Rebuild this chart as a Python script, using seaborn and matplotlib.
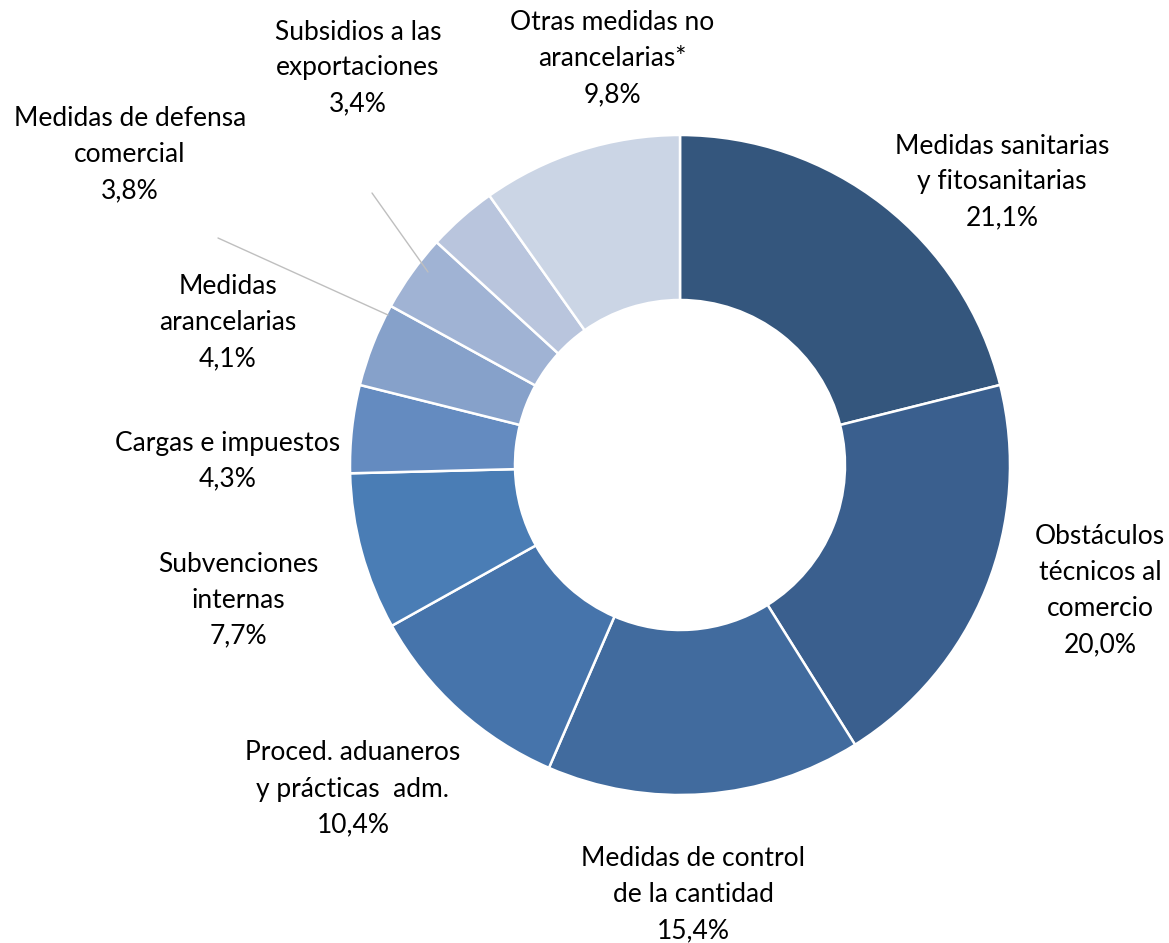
import matplotlib.pyplot as plt
import seaborn as sns

# Datos del gráfico
categorias = ['Medidas sanitarias\ny fitosanitarias',
              'Obstáculos\ntécnicos al\ncomercio',
              'Medidas de control\nde la cantidad',
              'Proced. aduaneros\ny prácticas  adm.',
              'Subvenciones\ninternas',
              'Cargas e impuestos',
              'Medidas\narancelarias',
              'Medidas de defensa\ncomercial',
              'Subsidios a las\nexportaciones',
              'Otras medidas no\narancelarias*']
porcentajes = [21.1, 20.0, 15.4, 10.4, 7.7, 4.3, 4.1, 3.8, 3.4, 9.8]

colores = ['#34567D', '#3A5F8E', '#416B9E', '#4674AB', '#4A7DB5',
           '#648BC0', '#86A1CA', '#A0B3D4', '#B9C5DD', '#CBD5E5']

# Posición de las etiquetas (en píxeles de la imagen, origen arriba a la izquierda)
pos_etiquetas = [(1002, 182), (1100, 591), (693, 895), (353, 789), (238, 600),
                 (228, 461), (228, 323), (130, 155), (358, 68), (612, 59)]

sns.set_theme(style='white')
plt.rcParams['font.family'] = ['Lato', 'DejaVu Sans']

W, H = 1169, 943
fig = plt.figure(figsize=(W / 100, H / 100), dpi=100)
ax = fig.add_axes([0, 0, 1, 1])

cx, cy, r = 680, H - 465, 330
ax.pie(porcentajes, colors=colores, startangle=90, counterclock=False,
       center=(cx, cy), radius=r, frame=True,
       wedgeprops=dict(width=r * 0.5, edgecolor='white', linewidth=1.8))
ax.set_xlim(0, W)
ax.set_ylim(0, H)
ax.set_aspect('equal')
ax.axis('off')

# Líneas guía
ax.plot([218, 388], [H - 238, H - 315], color='#BFBFBF', lw=1)
ax.plot([372, 428], [H - 193, H - 272], color='#BFBFBF', lw=1)

for cat, val, (x, y) in zip(categorias, porcentajes, pos_etiquetas):
    pct = f"{val:.1f}".replace('.', ',') + '%'
    ax.text(x, H - y, f"{cat}\n{pct}", ha='center', va='center', fontsize=19,
            linespacing=1.55, color='black')

fig.savefig('out.png', dpi=100)
